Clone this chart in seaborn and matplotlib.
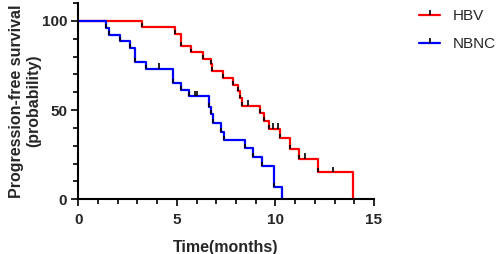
import numpy as np
import pandas as pd
import matplotlib
matplotlib.use("Agg")
import matplotlib.pyplot as plt
from matplotlib.lines import Line2D
from matplotlib.path import Path
from matplotlib.ticker import MultipleLocator
import seaborn as sns

# Kaplan-Meier steps (time in months, survival in %)
hbv_time = [3.22, 4.9, 5.2, 5.72, 6.31, 6.72, 6.77, 7.33, 7.83, 8.12, 8.2, 8.29,
            9.22, 9.42, 9.69, 10.23, 10.74, 11.21, 12.15, 13.95]
hbv_surv = [96.6, 92.9, 86.0, 82.3, 78.5, 75.6, 71.8, 68.1, 64.0, 60.6, 56.5, 52.4,
            48.5, 44.0, 39.4, 34.2, 28.2, 22.6, 15.1, 0]
hbv_cens_time = [8.62, 9.89, 10.13, 11.5, 12.9]
hbv_cens_surv = [52.4, 39.4, 39.4, 22.6, 15.1]

nbnc_time = [1.41, 1.56, 2.12, 2.62, 2.88, 3.43, 4.79, 5.21, 5.62, 6.65, 6.73, 6.82,
             7.24, 7.41, 8.46, 8.88, 9.34, 9.93, 10.32]
nbnc_surv = [96.2, 92.3, 88.5, 84.6, 76.9, 73.1, 65.4, 61.5, 57.7, 51.8, 47.6, 42.9,
             37.9, 33.2, 28.6, 23.9, 18.8, 6.7, 0]
nbnc_cens_time = [4.1, 5.93, 6.0]
nbnc_cens_surv = [73.1, 57.7, 57.7]

groups = ["HBV", "NBNC"]
colors = {"HBV": "#ff0000", "NBNC": "#0000ff"}

df = pd.concat([
    pd.DataFrame({"time": [0] + hbv_time, "surv": [100] + hbv_surv, "group": "HBV"}),
    pd.DataFrame({"time": [0] + nbnc_time, "surv": [100] + nbnc_surv, "group": "NBNC"}),
], ignore_index=True)

sns.set_style("ticks")
plt.rcParams["font.family"] = ["Liberation Sans", "DejaVu Sans"]

fig = plt.figure(figsize=(4.98, 2.54), dpi=100)
ax = fig.add_axes([0.157, 0.2154, 0.594, 0.7726])

sns.lineplot(data=df, x="time", y="surv", hue="group", palette=colors,
             drawstyle="steps-post", estimator=None, sort=False, lw=1.6,
             legend=False, ax=ax)

# short black marks at each step and censor ticks (as in Prism)
for t, s in [(hbv_time, hbv_surv), (nbnc_time, nbnc_surv)]:
    tt = np.array(t[:-1])
    ss = np.array(s[:-1])
    ax.vlines(tt, ss, ss + 2.2, color="black", lw=1.2, zorder=4)
for t, s in [(hbv_cens_time, hbv_cens_surv), (nbnc_cens_time, nbnc_cens_surv)]:
    ax.vlines(t, np.array(s), np.array(s) + 3.2, color="black", lw=1.2, zorder=4)

ax.set_xlim(0, 15)
ax.set_ylim(0, 110)
ax.set_xticks([0, 5, 10, 15])
ax.set_yticks([0, 50, 100])
ax.xaxis.set_minor_locator(MultipleLocator(1))
ax.yaxis.set_minor_locator(MultipleLocator(10))
for s in ["top", "right"]:
    ax.spines[s].set_visible(False)
for s in ["left", "bottom"]:
    ax.spines[s].set_linewidth(1.5)
    ax.spines[s].set_color("black")
ax.tick_params(which="major", length=5, width=1.2, color="black", labelsize=11, pad=3)
ax.tick_params(axis="x", which="major", pad=5)
ax.tick_params(which="minor", length=3.5, width=1.2, color="black")
for lab in ax.get_xticklabels() + ax.get_yticklabels():
    lab.set_fontweight("bold")

ax.set_xlabel("Time(months)", fontsize=11.5, fontweight="bold", labelpad=9)
ax.set_ylabel("Progression-free survival\n(probability)", fontsize=11.5,
              fontweight="bold", linespacing=1.15)
ax.yaxis.set_label_coords(-0.125, 0.5)

tick = Path([[0, 0], [0, 1]])
handles = [Line2D([], [], color=colors[g], lw=1.6, marker=tick, markersize=7,
                  markeredgecolor="black", markeredgewidth=1.2) for g in groups]
fig.legend(handles, groups, loc="upper left", bbox_to_anchor=(0.841, 0.965),
           frameon=False, fontsize=11, handlelength=1.4, handletextpad=0.8,
           labelspacing=0.95, borderpad=0, borderaxespad=0)

fig.savefig("out.png", dpi=100)
